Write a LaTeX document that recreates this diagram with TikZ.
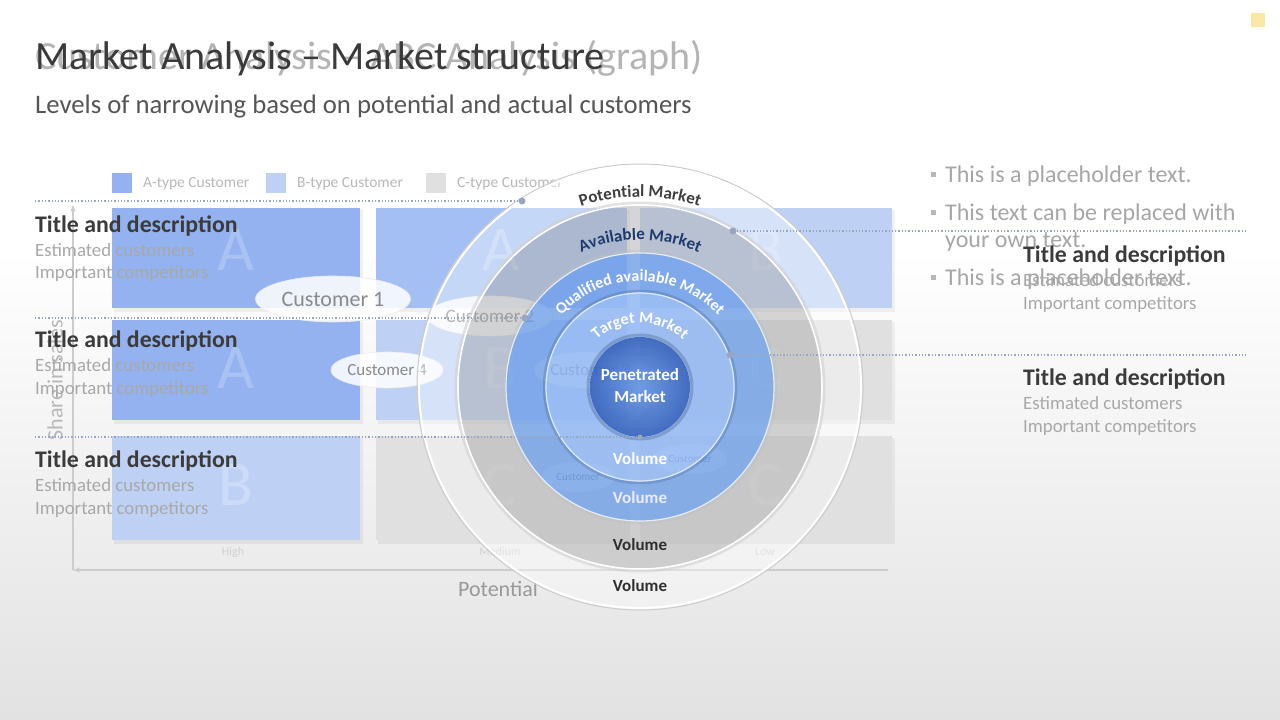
\documentclass[tikz,border=0pt]{standalone}
\usepackage{fontspec}
\setmainfont{Carlito}
\usetikzlibrary{decorations.text,calc,arrows.meta,shapes.geometric}
\newcommand\fsz[1]{\fontsize{#1}{#1}\selectfont}
\newcommand\ringfont{\bfseries\fontsize{17}{20}\selectfont}
\newcommand\ringfontb{\bfseries\fontsize{16}{19}\selectfont}
\definecolor{bgbot}{HTML}{E2E2E2}
\definecolor{ttlnew}{HTML}{3A3A3A}
\definecolor{ttlold}{HTML}{B4B4B4}
\definecolor{subcol}{HTML}{555555}
\definecolor{blkttl}{HTML}{3B3B3B}
\definecolor{blkln}{HTML}{A8A8A8}
\definecolor{oldtxt}{HTML}{B8B8B8}
\definecolor{bultxt}{HTML}{A6A6A6}
\definecolor{dotcol}{HTML}{98A6C0}
\definecolor{tA}{HTML}{93B2EF}
\definecolor{tAb}{HTML}{A3BFF3}
\definecolor{tB}{HTML}{BED1F5}
\definecolor{tC}{HTML}{E0E0E0}
\definecolor{axcol}{HTML}{CCCCCC}
\definecolor{custtxt}{HTML}{8A8A8A}
\definecolor{ringgray}{HTML}{B4B4B4}
\definecolor{qcol}{HTML}{709FE8}
\definecolor{tcol}{HTML}{92B8F3}
\definecolor{pin}{HTML}{6A98E4}
\definecolor{pout}{HTML}{3A66BE}
\definecolor{potcol}{HTML}{3F3F3F}
\definecolor{availcol}{HTML}{1F3A6E}
\definecolor{logoy}{HTML}{FBE7A6}
\begin{document}
\begin{tikzpicture}[x=1pt,y=1pt,
  blocktitle/.style={anchor=base west,inner sep=0pt,font=\bfseries\fsz{23.8},text=blkttl},
  blockline/.style={anchor=base west,inner sep=0pt,font=\fsz{18.8},text=blkln},
  dotline/.style={dotted,line width=1.3pt,draw=dotcol},
  enddot/.style={circle,fill=dotcol,inner sep=0pt,minimum size=7pt},
  custell/.style={ellipse,fill=white,fill opacity=.85,text opacity=1,draw=black!8,line width=.6pt,inner sep=0pt,text=custtxt},
  legtxt/.style={anchor=base west,inner sep=0pt,font=\fsz{15.5},text=oldtxt},
  legsq/.style={minimum size=20pt,inner sep=0pt,fill=#1},
  tileletter/.style={font=\fsz{64},text=white,text opacity=.22,inner sep=0pt},
  vol/.style={anchor=base,font=\bfseries\fsz{17},inner sep=0pt},
  bullettxt/.style={anchor=base west,inner sep=0pt,font=\fsz{24},text=bultxt},
  bulletsq/.style={minimum size=5pt,inner sep=0pt,fill=bultxt!80},
  axlabel/.style={font=\fsz{12},text=black!18,inner sep=0pt,anchor=base}
]
\useasboundingbox (0,0) rectangle (1280,720);
% background
\fill[white] (0,0) rectangle (1280,720);
\shade[top color=white,bottom color=bgbot] (0,0) rectangle (1280,470);
\fill[logoy] (1251,693) rectangle (1265,707);

% ================= old slide (fading out) =================
% tiles
\foreach \xa/\xb/\ya/\yb/\cc in {112/360/412/512/tA,376/627/412/512/tAb,640/892/412/512/tB,
                                  112/360/300/400/tA,376/627/300/400/tB,640/892/300/400/tC,
                                  112/360/180/284/tB,376/627/180/284/tC,640/892/180/284/tC}{
  \fill[black,opacity=.05] (\xa+2,\ya-4) rectangle (\xb+3,\yb-2);
  \fill[\cc] (\xa,\ya) rectangle (\xb,\yb);
}
\node[tileletter] (la1) at (236,470) {A};
\node[tileletter] (la2) at (501,470) {A};
\node[tileletter] (lb1) at (766,470) {B};
\node[tileletter] (la3) at (236,352) {A};
\node[tileletter] (lb2) at (501,352) {B};
\node[tileletter] (lc1) at (766,352) {C};
\node[tileletter] (lb3) at (236,235) {B};
\node[tileletter] (lc2) at (501,235) {C};
\node[tileletter] (lc3) at (766,235) {C};
% legend
\node[legsq=tA] (sqA) at (122,537) {};
\node[legtxt] (legA) at (143,532) {A-type Customer};
\node[legsq=tB] (sqB) at (276,537) {};
\node[legtxt] (legB) at (297,532) {B-type Customer};
\node[legsq=tC] (sqC) at (436,537) {};
\node[legtxt] (legC) at (457,532) {C-type Customer};
% axes
\coordinate (ax0) at (73,150);
\coordinate (axT) at (73,515);
\coordinate (axR) at (888,150);
\draw[axcol,line width=1.5pt,-{Stealth[length=7pt]}] (ax0) -- (axT);
\draw[axcol,line width=1.5pt,-{Stealth[length=7pt]}] (axR) -- (ax0);
\node[rotate=90,font=\fsz{22},text=oldtxt,inner sep=0pt] (share) at (55,340) {Share in sales};
\node[anchor=base,font=\fsz{22},text=black!40,inner sep=0pt] (pot) at (498,123) {Potential};
\node[axlabel] (hi) at (233,164) {High};
\node[axlabel] (med) at (500,164) {Medium};
\node[axlabel] (lo) at (765,164) {Low};
% customers
\node[custell,minimum width=155pt,minimum height=46pt,font=\fsz{22}] (cu1) at (333,421) {Customer 1};
\node[custell,minimum width=122pt,minimum height=40pt,font=\fsz{19}] (cu2) at (490,404) {Customer 2};
\node[custell,minimum width=108pt,minimum height=36pt,font=\fsz{17}] (cu4) at (387,350) {Customer 4};
\node[custell,minimum width=100pt,minimum height=36pt,font=\fsz{17},text=black!55] (cu3) at (590,350) {Customer 3};
\node[custell,minimum width=74pt,minimum height=30pt,font=\fsz{11},text=black!55] (cu5) at (578,243) {Customer};
\node[custell,minimum width=74pt,minimum height=30pt,font=\fsz{11},text=black!55] (cu6) at (690,261) {Customer};
% old title and bullets
\node[anchor=base west,inner sep=0pt,font=\fsz{40},text=ttlold] (oldtitle) at (35,650) {Customer Analysis -- ABC Analysis (graph)};
\node[bulletsq] (b1) at (933,545) {};
\node[bullettxt] (bt1) at (945,537) {This is a placeholder text.};
\node[bulletsq] (b2) at (933,507) {};
\node[bullettxt] (bt2) at (945,499) {This text can be replaced with};
\node[bullettxt] (bt2b) at (945,472) {your own text.};
\node[bulletsq] (b3) at (933,442) {};
\node[bullettxt] (bt3) at (945,434) {This is a placeholder text.};

% ================= new slide =================
\coordinate (C) at (640,333);
% rings
\fill[white,opacity=.38,even odd rule] (C) circle[radius=222] (C) circle[radius=182];
\draw[black!20,line width=1pt] (C) circle[radius=223];
\draw[white,line width=2pt] (C) circle[radius=221];
\fill[ringgray,opacity=.55,even odd rule] (C) circle[radius=182] (C) circle[radius=134];
\draw[black!18,line width=3pt,opacity=.6] (C) circle[radius=184];
\draw[white,line width=1.5pt] (C) circle[radius=182];
\fill[qcol,opacity=.8,even odd rule] (C) circle[radius=134] (C) circle[radius=94];
\draw[black!25,line width=2.5pt,opacity=.4] (C) circle[radius=136];
\draw[white!80!qcol,line width=1.2pt] (C) circle[radius=134];
\fill[tcol,opacity=.85,even odd rule] (C) circle[radius=94] (C) circle[radius=50];
\draw[qcol!70!black,line width=2.5pt,opacity=.35] (C) circle[radius=96];
\draw[white!70!tcol,line width=1.2pt] (C) circle[radius=94];
\draw[qcol!60!black,line width=3pt,opacity=.35] (C) circle[radius=52];
\shade[inner color=pin,outer color=pout,opacity=.95] (C) circle[radius=50];
% curved ring labels
\path[decorate,decoration={text along path,text align=center,text color=potcol,
   text={|\ringfont|Potential Market}}]
   ($(C)+(160:190)$) arc[start angle=160,end angle=20,radius=190];
\path[decorate,decoration={text along path,text align=center,text color=availcol,
   text={|\ringfont|Available Market}}]
   ($(C)+(160:147)$) arc[start angle=160,end angle=20,radius=147];
\path[decorate,decoration={text along path,text align=center,text color=white,
   text={|\ringfontb|Qualified available Market}}]
   ($(C)+(175:106)$) arc[start angle=175,end angle=5,radius=106];
\path[decorate,decoration={text along path,text align=center,text color=white,
   text={|\ringfontb|Target Market}}]
   ($(C)+(175:64)$) arc[start angle=175,end angle=5,radius=64];
\node[vol,text=white] (pen1) at (640,339) {Penetrated};
\node[vol,text=white] (pen2) at (640,317) {Market};
\node[vol,text=white] (v1) at (640,255) {Volume};
\node[vol,text=white!92!blue] (v2) at (640,216) {Volume};
\node[vol,text=black!82] (v3) at (640,169) {Volume};
\node[vol,text=black!82] (v4) at (640,128) {Volume};
% connector end points on the rings
\node[enddot] (dPot) at (522,519) {};
\node[enddot] (dQual) at (525,402) {};
\node[enddot,minimum size=5pt] (dPen) at (640,283) {};
\node[enddot] (dAvail) at (733,489) {};
\node[enddot] (dTarg) at (730,365) {};
\coordinate (eL1) at (35,519);
\coordinate (eL2) at (35,402);
\coordinate (eL3) at (35,283);
\coordinate (eR1) at (1246,489);
\coordinate (eR2) at (1246,365);
\draw[dotline] (eL1) -- (dPot);
\draw[dotline] (eL2) -- (dQual);
\draw[dotline] (eL3) -- (dPen);
\draw[dotline] (dAvail) -- (eR1);
\draw[dotline] (dTarg) -- (eR2);
% left text blocks
\node[blocktitle] (t1) at (35,487) {Title and description};
\node[blockline] (e1) at (35,463) {Estimated customers};
\node[blockline] (i1) at (35,441) {Important competitors};
\node[blocktitle] (t2) at (35,372) {Title and description};
\node[blockline] (e2) at (35,348) {Estimated customers};
\node[blockline] (i2) at (35,325) {Important competitors};
\node[blocktitle] (t3) at (35,252) {Title and description};
\node[blockline] (e3) at (35,228) {Estimated customers};
\node[blockline] (i3) at (35,205) {Important competitors};
% right text blocks
\node[blocktitle] (t4) at (1023,457) {Title and description};
\node[blockline] (e4) at (1023,433) {Estimated customers};
\node[blockline] (i4) at (1023,410) {Important competitors};
\node[blocktitle] (t5) at (1023,334) {Title and description};
\node[blockline] (e5) at (1023,310) {Estimated customers};
\node[blockline] (i5) at (1023,287) {Important competitors};
% title
\node[anchor=base west,inner sep=0pt,font=\fsz{40},text=ttlnew] (title) at (35,650) {Market Analysis -- Market structure};
\node[anchor=base west,inner sep=0pt,font=\fsz{26.7},text=subcol] (subtitle) at (35,606) {Levels of narrowing based on potential and actual customers};
\end{tikzpicture}
\end{document}
